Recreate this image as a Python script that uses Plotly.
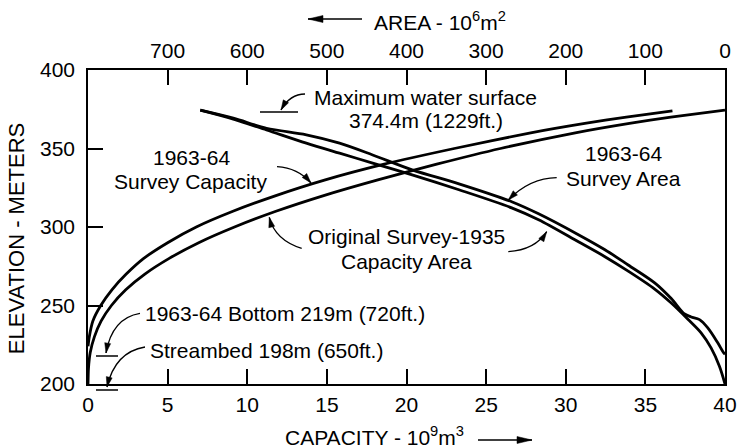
import plotly.graph_objects as go

# ---------------- data ----------------
# Original survey 1935 capacity (10^9 m^3) vs elevation (m)
orig_cap_elev = [200, 210, 220, 230, 240, 250, 260, 270, 280, 290, 300, 310, 320, 330, 340, 350, 360, 366, 370, 374.4]
orig_cap = [0, 0.03, 0.14, 0.4, 0.82, 1.47, 2.37, 3.57, 5.1, 6.95, 9.2, 11.8, 14.8, 18.2, 21.9, 25.9, 30.6, 34.0, 36.6, 40.0]

# 1963-64 survey capacity
s63_cap_elev = [224, 230, 240, 250, 260, 270, 280, 290, 300, 310, 320, 330, 340, 350, 360, 366, 370, 374.0]
s63_cap = [0, 0.08, 0.3, 0.8, 1.5, 2.4, 3.5, 5.0, 6.8, 9.1, 11.8, 14.9, 18.6, 23.0, 27.8, 31.2, 33.8, 36.7]

# Original survey 1935 area (10^6 m^2) vs elevation
orig_area = [659, 617.5, 575.8, 525.8, 484.1, 442.5, 392.9, 334.1, 267.9, 234.1, 184.1, 150.8, 121.6, 88.3, 67.5, 46.6, 30.0, 17.5, 7.0, 0]
orig_area_elev = [374.4, 368.7, 361.8, 353.4, 347.0, 340.7, 333.2, 323.7, 312.2, 304.6, 290.6, 281.1, 271.9, 260.5, 251.6, 241.3, 232.6, 223.0, 211.3, 200]

# 1963-64 survey area
s63_area = [659, 617.5, 575.8, 525.8, 484.1, 442.5, 392.9, 334.1, 267.9, 234.1, 184.1, 150.8, 121.6, 88.3, 67.5, 50.8, 42.5, 32.0, 21.6, 9.1, 1.6, 0]
s63_area_elev = [374.4, 369.3, 362.9, 358.7, 353.4, 345.9, 336.4, 327.5, 316.1, 308.4, 295.1, 285.5, 275.8, 264.4, 254.4, 244.6, 242.7, 241.0, 235.7, 226.2, 219.8, 219.0]

cap_ticks = [0, 5, 10, 15, 20, 25, 30, 35, 40]
area_ticks = [700, 600, 500, 400, 300, 200, 100, 0]
elev_ticks = [200, 250, 300, 350, 400]

# ---------------- figure ----------------
W, H = 737, 448
ML, MR, MT, MB = 88, 12, 70, 64
PW, PH = W - ML - MR, H - MT - MB
FONT = "Liberation Sans, Arial, Helvetica, sans-serif"
LW = 2.8


def P(x, y):
    """pixel -> paper coordinates"""
    return (x - ML) / PW, 1 - (y - MT) / PH


fig = go.Figure()
fig.add_trace(go.Scatter(x=orig_cap, y=orig_cap_elev, mode="lines", xaxis="x", yaxis="y",
                         line=dict(color="black", width=LW, shape="spline", smoothing=0.6),
                         showlegend=False, hoverinfo="skip"))
fig.add_trace(go.Scatter(x=s63_cap, y=s63_cap_elev, mode="lines", xaxis="x", yaxis="y",
                         line=dict(color="black", width=LW, shape="spline", smoothing=0.6),
                         showlegend=False, hoverinfo="skip"))
fig.add_trace(go.Scatter(x=orig_area, y=orig_area_elev, mode="lines", xaxis="x2", yaxis="y",
                         line=dict(color="black", width=LW, shape="spline", smoothing=0.9),
                         showlegend=False, hoverinfo="skip"))
fig.add_trace(go.Scatter(x=s63_area, y=s63_area_elev, mode="lines", xaxis="x2", yaxis="y",
                         line=dict(color="black", width=LW, shape="spline", smoothing=0.9),
                         showlegend=False, hoverinfo="skip"))

axis_common = dict(showgrid=False, zeroline=False, showline=True, linecolor="black", linewidth=1.5,
                   ticks="inside", ticklen=15, tickwidth=1.5, tickcolor="black", automargin=False,
                   ticklabeloverflow="allow",
                   tickfont=dict(family=FONT, size=21, color="black"))

fig.update_layout(
    width=W, height=H, autosize=False,
    margin=dict(l=ML, r=MR, t=MT, b=MB, pad=0),
    paper_bgcolor="white", plot_bgcolor="white",
    xaxis=dict(range=[0, 40], tickvals=cap_ticks, ticktext=[str(v) for v in cap_ticks],
               ticklabelstandoff=1, **axis_common),
    xaxis2=dict(range=[800, 0], tickvals=area_ticks, ticktext=[str(v) for v in area_ticks],
                overlaying="x", side="top", anchor="y", ticklabelstandoff=2, **axis_common),
    yaxis=dict(range=[200, 400], tickvals=elev_ticks, ticktext=[str(v) for v in elev_ticks],
               mirror=True, ticklabelstandoff=7, **axis_common),
)

shapes = []
annotations = []


def text(x, y, s, anchor="center", size=21, angle=0):
    px, py = P(x, y)
    annotations.append(dict(x=px, y=py, xref="paper", yref="paper", text=s, showarrow=False,
                            xanchor=anchor, yanchor="middle", textangle=angle,
                            font=dict(family=FONT, size=size, color="black")))


def hline(x0, x1, y):
    a, b = P(x0, y)
    c, d = P(x1, y)
    shapes.append(dict(type="line", xref="paper", yref="paper", x0=a, y0=b, x1=c, y1=d,
                       line=dict(color="black", width=1.5)))


def head(tip, frm, L=10, w=3):
    tx, ty = tip
    dx, dy = tx - frm[0], ty - frm[1]
    n = (dx * dx + dy * dy) ** 0.5
    dx, dy = dx / n, dy / n
    bx, by = tx - L * dx, ty - L * dy
    nx, ny = -dy, dx
    pts = [(tx, ty), (bx + w * nx, by + w * ny), (bx - w * nx, by - w * ny)]
    pp = [P(*p) for p in pts]
    path = "M {},{} L {},{} L {},{} Z".format(pp[0][0], pp[0][1], pp[1][0], pp[1][1], pp[2][0], pp[2][1])
    shapes.append(dict(type="path", xref="paper", yref="paper", path=path,
                       fillcolor="black", line=dict(color="black", width=0.5)))


def curved_arrow(start, ctrl, tip, L=10, w=3):
    s, c, t = P(*start), P(*ctrl), P(*tip)
    path = "M {},{} Q {},{} {},{}".format(s[0], s[1], c[0], c[1], t[0], t[1])
    shapes.append(dict(type="path", xref="paper", yref="paper", path=path,
                       line=dict(color="black", width=1.3)))
    head(tip, ctrl, L, w)


def straight_arrow(x0, x1, y, L=15, w=3.5):
    hline(x0, x1, y)
    head((x1, y), (x0, y), L, w)


# marker lines
hline(260, 298, 112)
hline(96, 118, 356)
hline(96, 118, 390)

# curved leaders
curved_arrow((305, 94), (290, 94), (281, 110))
curved_arrow((277, 166.7), (298, 168), (311, 183))
curved_arrow((301.7, 248.3), (275, 240), (269.3, 217.3))
curved_arrow((508.3, 251.7), (535, 250), (546.7, 231.7))
curved_arrow((556.7, 177.7), (530, 178), (508.3, 200))
curved_arrow((140, 313.3), (112, 318), (106, 353))
curved_arrow((145, 347), (115, 352), (107, 387))

# axis title arrows
straight_arrow(362, 308, 19)
straight_arrow(478, 532, 440)

# texts
text(425.5, 97, "Maximum water surface")
text(426, 121, "374.4m (1229ft.)")
text(191, 157, "1963-64")
text(190.5, 181, "Survey Capacity")
text(406.7, 236.7, "Original Survey-1935")
text(406.7, 261.7, "Capacity Area")
text(623, 153.3, "1963-64")
text(623, 178.3, "Survey Area")
text(142.7, 313.3, "1963-64 Bottom 219m (720ft.)", anchor="left")
text(148.3, 350, "Streambed 198m (650ft.)", anchor="left")
text(372, 21, "AREA - 10<sup>6</sup>m<sup>2</sup>", anchor="left")
text(283, 436, "CAPACITY - 10<sup>9</sup>m<sup>3</sup>", anchor="left")
text(16.7, 238.5, "ELEVATION - METERS", size=22, angle=-90)

fig.update_layout(shapes=shapes, annotations=annotations)
fig.write_html("out.html", config={"displayModeBar": False},
               post_script="document.body.style.margin='0';document.body.style.overflow='hidden';")
